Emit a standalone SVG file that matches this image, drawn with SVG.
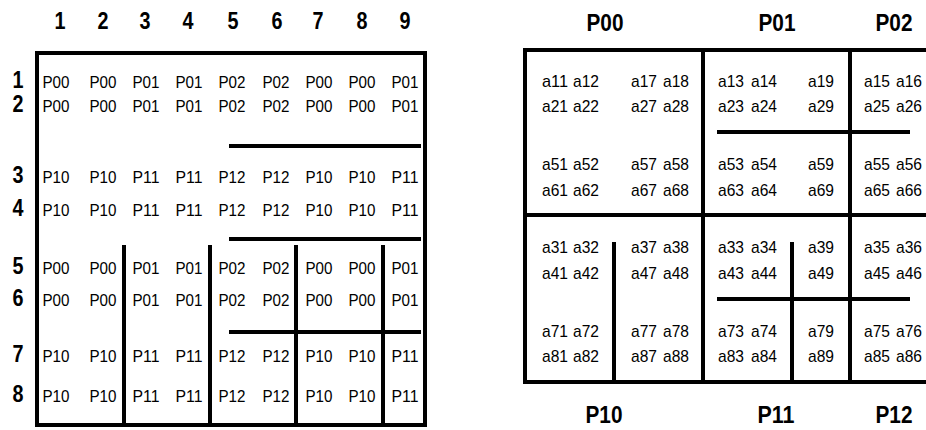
<svg xmlns="http://www.w3.org/2000/svg" width="926" height="430" viewBox="0 0 926 430">
<style>
.c text{font-family:"Liberation Sans",Arial,sans-serif;font-size:17px;fill:#000;text-anchor:middle}
.a text{font-family:"Liberation Sans",Arial,sans-serif;font-size:17px;fill:#000}
.h text{font-family:"Liberation Sans",Arial,sans-serif;font-size:23px;font-weight:bold;fill:#000;text-anchor:middle}
.p text{font-family:"Liberation Sans",Arial,sans-serif;font-size:24px;font-weight:bold;fill:#000;text-anchor:middle}
.ln{stroke:#000;stroke-width:4;fill:none}
</style>
<rect width="926" height="430" fill="#fff"/>
<g id="left-grid">
<g id="col-headers" class="h">
<text x="60" y="29" textLength="11" lengthAdjust="spacingAndGlyphs">1</text><text x="103" y="29" textLength="11" lengthAdjust="spacingAndGlyphs">2</text><text x="145" y="29" textLength="11" lengthAdjust="spacingAndGlyphs">3</text><text x="188" y="29" textLength="11" lengthAdjust="spacingAndGlyphs">4</text><text x="233" y="29" textLength="11" lengthAdjust="spacingAndGlyphs">5</text><text x="277" y="29" textLength="11" lengthAdjust="spacingAndGlyphs">6</text><text x="318" y="29" textLength="11" lengthAdjust="spacingAndGlyphs">7</text><text x="362" y="29" textLength="11" lengthAdjust="spacingAndGlyphs">8</text><text x="405" y="29" textLength="11" lengthAdjust="spacingAndGlyphs">9</text>
</g>
<g id="row-headers" class="h">
<text x="18" y="88" textLength="11" lengthAdjust="spacingAndGlyphs">1</text><text x="18" y="112" textLength="11" lengthAdjust="spacingAndGlyphs">2</text><text x="18" y="183" textLength="11" lengthAdjust="spacingAndGlyphs">3</text><text x="18" y="216" textLength="11" lengthAdjust="spacingAndGlyphs">4</text><text x="18" y="274" textLength="11" lengthAdjust="spacingAndGlyphs">5</text><text x="18" y="306" textLength="11" lengthAdjust="spacingAndGlyphs">6</text><text x="18" y="362" textLength="11" lengthAdjust="spacingAndGlyphs">7</text><text x="18" y="402" textLength="11" lengthAdjust="spacingAndGlyphs">8</text>
</g>
<g id="left-lines" class="ln">
<rect x="37" y="53" width="388" height="372"/>
<path d="M229 146H421M229 239H421M229 332H421M124 245V425M210 245V425M296 245V425M383 245V425"/>
</g>
<g id="cells" class="c">
<g id="r1"><text x="56" y="88" textLength="27" lengthAdjust="spacingAndGlyphs">P00</text><text x="103" y="88" textLength="27" lengthAdjust="spacingAndGlyphs">P00</text><text x="146" y="88" textLength="27" lengthAdjust="spacingAndGlyphs">P01</text><text x="189" y="88" textLength="27" lengthAdjust="spacingAndGlyphs">P01</text><text x="232" y="88" textLength="27" lengthAdjust="spacingAndGlyphs">P02</text><text x="276" y="88" textLength="27" lengthAdjust="spacingAndGlyphs">P02</text><text x="319" y="88" textLength="27" lengthAdjust="spacingAndGlyphs">P00</text><text x="362" y="88" textLength="27" lengthAdjust="spacingAndGlyphs">P00</text><text x="405" y="88" textLength="27" lengthAdjust="spacingAndGlyphs">P01</text></g>
<g id="r2"><text x="56" y="112" textLength="27" lengthAdjust="spacingAndGlyphs">P00</text><text x="103" y="112" textLength="27" lengthAdjust="spacingAndGlyphs">P00</text><text x="146" y="112" textLength="27" lengthAdjust="spacingAndGlyphs">P01</text><text x="189" y="112" textLength="27" lengthAdjust="spacingAndGlyphs">P01</text><text x="232" y="112" textLength="27" lengthAdjust="spacingAndGlyphs">P02</text><text x="276" y="112" textLength="27" lengthAdjust="spacingAndGlyphs">P02</text><text x="319" y="112" textLength="27" lengthAdjust="spacingAndGlyphs">P00</text><text x="362" y="112" textLength="27" lengthAdjust="spacingAndGlyphs">P00</text><text x="405" y="112" textLength="27" lengthAdjust="spacingAndGlyphs">P01</text></g>
<g id="r3"><text x="56" y="183" textLength="27" lengthAdjust="spacingAndGlyphs">P10</text><text x="103" y="183" textLength="27" lengthAdjust="spacingAndGlyphs">P10</text><text x="146" y="183" textLength="27" lengthAdjust="spacingAndGlyphs">P11</text><text x="189" y="183" textLength="27" lengthAdjust="spacingAndGlyphs">P11</text><text x="232" y="183" textLength="27" lengthAdjust="spacingAndGlyphs">P12</text><text x="276" y="183" textLength="27" lengthAdjust="spacingAndGlyphs">P12</text><text x="319" y="183" textLength="27" lengthAdjust="spacingAndGlyphs">P10</text><text x="362" y="183" textLength="27" lengthAdjust="spacingAndGlyphs">P10</text><text x="405" y="183" textLength="27" lengthAdjust="spacingAndGlyphs">P11</text></g>
<g id="r4"><text x="56" y="216" textLength="27" lengthAdjust="spacingAndGlyphs">P10</text><text x="103" y="216" textLength="27" lengthAdjust="spacingAndGlyphs">P10</text><text x="146" y="216" textLength="27" lengthAdjust="spacingAndGlyphs">P11</text><text x="189" y="216" textLength="27" lengthAdjust="spacingAndGlyphs">P11</text><text x="232" y="216" textLength="27" lengthAdjust="spacingAndGlyphs">P12</text><text x="276" y="216" textLength="27" lengthAdjust="spacingAndGlyphs">P12</text><text x="319" y="216" textLength="27" lengthAdjust="spacingAndGlyphs">P10</text><text x="362" y="216" textLength="27" lengthAdjust="spacingAndGlyphs">P10</text><text x="405" y="216" textLength="27" lengthAdjust="spacingAndGlyphs">P11</text></g>
<g id="r5"><text x="56" y="274" textLength="27" lengthAdjust="spacingAndGlyphs">P00</text><text x="103" y="274" textLength="27" lengthAdjust="spacingAndGlyphs">P00</text><text x="146" y="274" textLength="27" lengthAdjust="spacingAndGlyphs">P01</text><text x="189" y="274" textLength="27" lengthAdjust="spacingAndGlyphs">P01</text><text x="232" y="274" textLength="27" lengthAdjust="spacingAndGlyphs">P02</text><text x="276" y="274" textLength="27" lengthAdjust="spacingAndGlyphs">P02</text><text x="319" y="274" textLength="27" lengthAdjust="spacingAndGlyphs">P00</text><text x="362" y="274" textLength="27" lengthAdjust="spacingAndGlyphs">P00</text><text x="405" y="274" textLength="27" lengthAdjust="spacingAndGlyphs">P01</text></g>
<g id="r6"><text x="56" y="306" textLength="27" lengthAdjust="spacingAndGlyphs">P00</text><text x="103" y="306" textLength="27" lengthAdjust="spacingAndGlyphs">P00</text><text x="146" y="306" textLength="27" lengthAdjust="spacingAndGlyphs">P01</text><text x="189" y="306" textLength="27" lengthAdjust="spacingAndGlyphs">P01</text><text x="232" y="306" textLength="27" lengthAdjust="spacingAndGlyphs">P02</text><text x="276" y="306" textLength="27" lengthAdjust="spacingAndGlyphs">P02</text><text x="319" y="306" textLength="27" lengthAdjust="spacingAndGlyphs">P00</text><text x="362" y="306" textLength="27" lengthAdjust="spacingAndGlyphs">P00</text><text x="405" y="306" textLength="27" lengthAdjust="spacingAndGlyphs">P01</text></g>
<g id="r7"><text x="56" y="362" textLength="27" lengthAdjust="spacingAndGlyphs">P10</text><text x="103" y="362" textLength="27" lengthAdjust="spacingAndGlyphs">P10</text><text x="146" y="362" textLength="27" lengthAdjust="spacingAndGlyphs">P11</text><text x="189" y="362" textLength="27" lengthAdjust="spacingAndGlyphs">P11</text><text x="232" y="362" textLength="27" lengthAdjust="spacingAndGlyphs">P12</text><text x="276" y="362" textLength="27" lengthAdjust="spacingAndGlyphs">P12</text><text x="319" y="362" textLength="27" lengthAdjust="spacingAndGlyphs">P10</text><text x="362" y="362" textLength="27" lengthAdjust="spacingAndGlyphs">P10</text><text x="405" y="362" textLength="27" lengthAdjust="spacingAndGlyphs">P11</text></g>
<g id="r8"><text x="56" y="402" textLength="27" lengthAdjust="spacingAndGlyphs">P10</text><text x="103" y="402" textLength="27" lengthAdjust="spacingAndGlyphs">P10</text><text x="146" y="402" textLength="27" lengthAdjust="spacingAndGlyphs">P11</text><text x="189" y="402" textLength="27" lengthAdjust="spacingAndGlyphs">P11</text><text x="232" y="402" textLength="27" lengthAdjust="spacingAndGlyphs">P12</text><text x="276" y="402" textLength="27" lengthAdjust="spacingAndGlyphs">P12</text><text x="319" y="402" textLength="27" lengthAdjust="spacingAndGlyphs">P10</text><text x="362" y="402" textLength="27" lengthAdjust="spacingAndGlyphs">P10</text><text x="405" y="402" textLength="27" lengthAdjust="spacingAndGlyphs">P11</text></g>
</g>
</g>
<g id="right-grid">
<g id="proc-labels" class="p">
<text x="605" y="31" textLength="37" lengthAdjust="spacingAndGlyphs">P00</text><text x="777" y="31" textLength="37" lengthAdjust="spacingAndGlyphs">P01</text><text x="894" y="31" textLength="37" lengthAdjust="spacingAndGlyphs">P02</text>
<text x="604" y="423" textLength="37" lengthAdjust="spacingAndGlyphs">P10</text><text x="776" y="423" textLength="37" lengthAdjust="spacingAndGlyphs">P11</text><text x="894" y="423" textLength="37" lengthAdjust="spacingAndGlyphs">P12</text>
</g>
<g id="right-lines" class="ln">
<rect x="525" y="50" width="430" height="332"/>
<path d="M525 215H926M703 50V382M850 50V382M717 132H910M717 299H910M614 242V382M792 242V382"/>
</g>
<g id="entries" class="a">
<g id="e1"><text x="542" y="87" textLength="26" lengthAdjust="spacingAndGlyphs">a11</text><text x="573" y="87" textLength="26" lengthAdjust="spacingAndGlyphs">a12</text><text x="631" y="87" textLength="26" lengthAdjust="spacingAndGlyphs">a17</text><text x="663" y="87" textLength="26" lengthAdjust="spacingAndGlyphs">a18</text><text x="718" y="87" textLength="26" lengthAdjust="spacingAndGlyphs">a13</text><text x="751" y="87" textLength="26" lengthAdjust="spacingAndGlyphs">a14</text><text x="808" y="87" textLength="26" lengthAdjust="spacingAndGlyphs">a19</text><text x="864" y="87" textLength="26" lengthAdjust="spacingAndGlyphs">a15</text><text x="896" y="87" textLength="26" lengthAdjust="spacingAndGlyphs">a16</text></g>
<g id="e2"><text x="542" y="112" textLength="26" lengthAdjust="spacingAndGlyphs">a21</text><text x="573" y="112" textLength="26" lengthAdjust="spacingAndGlyphs">a22</text><text x="631" y="112" textLength="26" lengthAdjust="spacingAndGlyphs">a27</text><text x="663" y="112" textLength="26" lengthAdjust="spacingAndGlyphs">a28</text><text x="718" y="112" textLength="26" lengthAdjust="spacingAndGlyphs">a23</text><text x="751" y="112" textLength="26" lengthAdjust="spacingAndGlyphs">a24</text><text x="808" y="112" textLength="26" lengthAdjust="spacingAndGlyphs">a29</text><text x="864" y="112" textLength="26" lengthAdjust="spacingAndGlyphs">a25</text><text x="896" y="112" textLength="26" lengthAdjust="spacingAndGlyphs">a26</text></g>
<g id="e5"><text x="542" y="170" textLength="26" lengthAdjust="spacingAndGlyphs">a51</text><text x="573" y="170" textLength="26" lengthAdjust="spacingAndGlyphs">a52</text><text x="631" y="170" textLength="26" lengthAdjust="spacingAndGlyphs">a57</text><text x="663" y="170" textLength="26" lengthAdjust="spacingAndGlyphs">a58</text><text x="718" y="170" textLength="26" lengthAdjust="spacingAndGlyphs">a53</text><text x="751" y="170" textLength="26" lengthAdjust="spacingAndGlyphs">a54</text><text x="808" y="170" textLength="26" lengthAdjust="spacingAndGlyphs">a59</text><text x="864" y="170" textLength="26" lengthAdjust="spacingAndGlyphs">a55</text><text x="896" y="170" textLength="26" lengthAdjust="spacingAndGlyphs">a56</text></g>
<g id="e6"><text x="542" y="196" textLength="26" lengthAdjust="spacingAndGlyphs">a61</text><text x="573" y="196" textLength="26" lengthAdjust="spacingAndGlyphs">a62</text><text x="631" y="196" textLength="26" lengthAdjust="spacingAndGlyphs">a67</text><text x="663" y="196" textLength="26" lengthAdjust="spacingAndGlyphs">a68</text><text x="718" y="196" textLength="26" lengthAdjust="spacingAndGlyphs">a63</text><text x="751" y="196" textLength="26" lengthAdjust="spacingAndGlyphs">a64</text><text x="808" y="196" textLength="26" lengthAdjust="spacingAndGlyphs">a69</text><text x="864" y="196" textLength="26" lengthAdjust="spacingAndGlyphs">a65</text><text x="896" y="196" textLength="26" lengthAdjust="spacingAndGlyphs">a66</text></g>
<g id="e3"><text x="542" y="253" textLength="26" lengthAdjust="spacingAndGlyphs">a31</text><text x="573" y="253" textLength="26" lengthAdjust="spacingAndGlyphs">a32</text><text x="631" y="253" textLength="26" lengthAdjust="spacingAndGlyphs">a37</text><text x="663" y="253" textLength="26" lengthAdjust="spacingAndGlyphs">a38</text><text x="718" y="253" textLength="26" lengthAdjust="spacingAndGlyphs">a33</text><text x="751" y="253" textLength="26" lengthAdjust="spacingAndGlyphs">a34</text><text x="808" y="253" textLength="26" lengthAdjust="spacingAndGlyphs">a39</text><text x="864" y="253" textLength="26" lengthAdjust="spacingAndGlyphs">a35</text><text x="896" y="253" textLength="26" lengthAdjust="spacingAndGlyphs">a36</text></g>
<g id="e4"><text x="542" y="279" textLength="26" lengthAdjust="spacingAndGlyphs">a41</text><text x="573" y="279" textLength="26" lengthAdjust="spacingAndGlyphs">a42</text><text x="631" y="279" textLength="26" lengthAdjust="spacingAndGlyphs">a47</text><text x="663" y="279" textLength="26" lengthAdjust="spacingAndGlyphs">a48</text><text x="718" y="279" textLength="26" lengthAdjust="spacingAndGlyphs">a43</text><text x="751" y="279" textLength="26" lengthAdjust="spacingAndGlyphs">a44</text><text x="808" y="279" textLength="26" lengthAdjust="spacingAndGlyphs">a49</text><text x="864" y="279" textLength="26" lengthAdjust="spacingAndGlyphs">a45</text><text x="896" y="279" textLength="26" lengthAdjust="spacingAndGlyphs">a46</text></g>
<g id="e7"><text x="542" y="337" textLength="26" lengthAdjust="spacingAndGlyphs">a71</text><text x="573" y="337" textLength="26" lengthAdjust="spacingAndGlyphs">a72</text><text x="631" y="337" textLength="26" lengthAdjust="spacingAndGlyphs">a77</text><text x="663" y="337" textLength="26" lengthAdjust="spacingAndGlyphs">a78</text><text x="718" y="337" textLength="26" lengthAdjust="spacingAndGlyphs">a73</text><text x="751" y="337" textLength="26" lengthAdjust="spacingAndGlyphs">a74</text><text x="808" y="337" textLength="26" lengthAdjust="spacingAndGlyphs">a79</text><text x="864" y="337" textLength="26" lengthAdjust="spacingAndGlyphs">a75</text><text x="896" y="337" textLength="26" lengthAdjust="spacingAndGlyphs">a76</text></g>
<g id="e8"><text x="542" y="362" textLength="26" lengthAdjust="spacingAndGlyphs">a81</text><text x="573" y="362" textLength="26" lengthAdjust="spacingAndGlyphs">a82</text><text x="631" y="362" textLength="26" lengthAdjust="spacingAndGlyphs">a87</text><text x="663" y="362" textLength="26" lengthAdjust="spacingAndGlyphs">a88</text><text x="718" y="362" textLength="26" lengthAdjust="spacingAndGlyphs">a83</text><text x="751" y="362" textLength="26" lengthAdjust="spacingAndGlyphs">a84</text><text x="808" y="362" textLength="26" lengthAdjust="spacingAndGlyphs">a89</text><text x="864" y="362" textLength="26" lengthAdjust="spacingAndGlyphs">a85</text><text x="896" y="362" textLength="26" lengthAdjust="spacingAndGlyphs">a86</text></g>
</g>
</g>
</svg>
